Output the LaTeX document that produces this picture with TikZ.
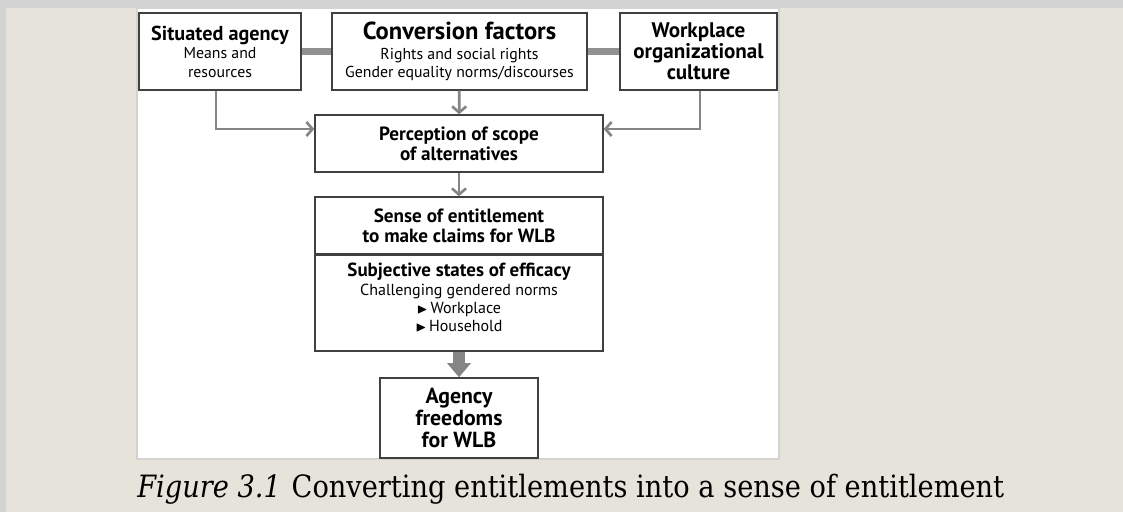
\documentclass[tikz,border=0pt]{standalone}
\usepackage{fontspec}
\usepackage{amssymb}
\usepackage{tikz}
\setmainfont{DejaVu Serif}
\newfontfamily\boxfont{PT Sans}
\newfontfamily\capfont{DejaVu Serif}[FakeStretch=0.885]
\definecolor{paper}{HTML}{E6E4DA}
\definecolor{edge}{HTML}{D3D3D3}
\definecolor{linkgray}{HTML}{858585}
\usetikzlibrary{arrows.meta,positioning}
\newcommand{\bfsz}[2]{{\bfseries\fontsize{#1}{#1}\selectfont #2}}
\newcommand{\bul}{{\footnotesize$\blacktriangleright$}\,}

\begin{document}
\begin{tikzpicture}[
    >={Straight Barb[length=3.5pt,width=8pt]},
    box/.style = {draw=black!75, line width=0.8pt, fill=white, align=center, inner sep=0pt,
                  font=\boxfont\fontsize{9}{10.5}\selectfont},
    line/.style = {->, draw=linkgray, line width=1.5pt},
    bar/.style = {draw=linkgray!90, line width=4pt},
    big/.style = {-{Triangle[width=13pt,length=8pt]}, draw=linkgray, line width=6.5pt}
]
    % Page
    \fill[paper] (0,0) rectangle (22.46,-10.24);
    \fill[edge] (0,0) rectangle (22.46,-0.16);
    \fill[edge] (0,0) rectangle (0.12,-10.24);
    \draw[fill=white,draw=edge,line width=1pt] (2.74,-0.16) rectangle (15.58,-9.18);

    % Top row
    \node at (4.40,-1.03) [box,minimum width=3.24cm,minimum height=1.54cm] (sit)
        {\bfsz{11.5}{Situated agency}\\ Means and\\ resources};
    \node at (9.19,-1.03) [box,minimum width=5.10cm,minimum height=1.54cm] (conv)
        {\bfsz{14}{Conversion factors}\\[0.5pt] Rights and social rights\\ Gender equality norms/discourses};
    \node at (13.97,-1.03) [box,minimum width=3.14cm,minimum height=1.54cm,
                            font=\boxfont\bfseries\fontsize{12}{10.8}\selectfont] (work)
        {Workplace\\ organizational\\ culture};

    \draw[bar] (sit.east) -- (conv.west);
    \draw[bar] (conv.east) -- (work.west);

    % Middle
    \node at (9.18,-2.87) [box,minimum width=5.76cm,minimum height=1.14cm,
                           font=\boxfont\bfseries\fontsize{10.9}{11.3}\selectfont] (perc)
        {Perception of scope\\ of alternatives};
    \node at (9.18,-4.51) [box,minimum width=5.76cm,minimum height=1.14cm,
                           font=\boxfont\bfseries\fontsize{10.9}{11.3}\selectfont] (sense)
        {Sense of entitlement\\ to make claims for WLB};
    \node [box,anchor=north,minimum width=5.76cm,text depth=6.5pt,inner ysep=4.5pt,
           font=\boxfont\fontsize{9.1}{10.4}\selectfont] at (sense.south) (eff)
        {\bfsz{10.8}{Subjective states of efficacy}\\
         Challenging gendered norms\\
         \bul Workplace\\
         \bul Household};

    \draw[line] (conv) -- (perc);
    \draw[line] ([xshift=-0.08cm]sit.south) |- ([yshift=0.29cm]perc.west);
    \draw[line] ([xshift=0.03cm]work.south) |- ([yshift=0.29cm]perc.east);
    \draw[line] (perc) -- (sense);

    % Bottom
    \node at (9.18,-8.36) [box,minimum width=3.16cm,minimum height=1.6cm,
                           font=\boxfont\bfseries\fontsize{12.4}{12.6}\selectfont] (agency)
        {Agency\\ freedoms\\ for WLB};
    \draw[big] (eff) -- (agency);

    % Caption
    \node [anchor=base west,inner sep=0pt,font=\capfont\fontsize{17.5}{19}\selectfont] at (2.74,-9.94) (cap)
        {\textit{Figure 3.1}\hspace{0.35em}Converting entitlements into a sense of entitlement};
\end{tikzpicture}
\end{document}
